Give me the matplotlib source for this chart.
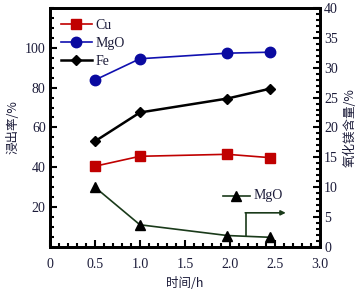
import matplotlib.pyplot as plt
from matplotlib.ticker import MultipleLocator

# data
t = [0.5, 1.0, 1.97, 2.45]
cu = [40.5, 45.5, 46.5, 44.8]
mgo = [83.8, 94.5, 97.3, 97.8]
fe = [53.0, 67.5, 74.5, 79.5]
mgo_content = [10.0, 3.7, 1.9, 1.6]

serif = ['Liberation Serif', 'Noto Sans CJK SC']
cjk = ['Noto Sans CJK SC', 'Liberation Serif']
tc = '#1c1c3a'

plt.rcParams['font.family'] = serif
plt.rcParams['font.size'] = 10

fig = plt.figure(figsize=(3.64, 2.96), dpi=100)
ax = fig.add_axes([0.137, 0.166, 0.742, 0.807])
ax2 = ax.twinx()

ax.plot(t, cu, color='#c00000', marker='s', ms=6.5, lw=1.2, label='Cu')
ax.plot(t, mgo, color='#1010b0', marker='o', ms=7.5, lw=1.2, label='MgO',
        mfc='#0a0aa0', mec='#0a0aa0')
ax.plot(t, fe, color='black', marker='D', ms=5.5, lw=1.8, label='Fe')

ax2.plot(t, mgo_content, color='#1a3a1a', marker='^', ms=7.5, lw=1.2,
         mfc='black', mec='black')

# second legend entry for MgO content
ax2.plot([1.92, 2.22], [8.6, 8.6], color='#1a3a1a', lw=1.2)
ax2.plot([2.07], [8.6], marker='^', ms=7.5, color='black')
ax2.text(2.26, 8.6, 'MgO', va='center', ha='left', color=tc, fontsize=10)

# arrow pointing to right axis
ax2.plot([2.18, 2.18], [1.75, 5.7], color='#1a3a1a', lw=1.2)
ax2.annotate('', xy=(2.62, 5.7), xytext=(2.17, 5.7),
             arrowprops=dict(arrowstyle='-|>', color='#1a3a1a', lw=1.2,
                             mutation_scale=7, shrinkA=0, shrinkB=0))

ax.set_xlim(0, 3.0)
ax.set_ylim(0, 120)
ax2.set_ylim(0, 40)

ax.set_xticks([0, 0.5, 1.0, 1.5, 2.0, 2.5, 3.0])
ax.set_xticklabels(['0', '0.5', '1.0', '1.5', '2.0', '2.5', '3.0'])
ax.xaxis.set_minor_locator(MultipleLocator(0.1))
ax.set_yticks([20, 40, 60, 80, 100])
ax.yaxis.set_minor_locator(MultipleLocator(5))
ax2.set_yticks([0, 5, 10, 15, 20, 25, 30, 35, 40])
ax2.yaxis.set_minor_locator(MultipleLocator(1))

for a in (ax, ax2):
    for s in a.spines.values():
        s.set_linewidth(2)
    a.tick_params(which='major', direction='in', length=5, width=1.5,
                  colors='black', labelcolor=tc, labelsize=10, pad=3)
    a.tick_params(which='minor', direction='in', length=3, width=1.5)
ax.tick_params(axis='x', pad=8)

ax.set_xlabel('时间/h', family=cjk, fontsize=9, color=tc, labelpad=4)
ax.set_ylabel('浸出率/%', family=cjk, fontsize=9, color=tc, labelpad=4)
ax2.set_ylabel('氧化镁含量/%', family=cjk, fontsize=9, color=tc, labelpad=4)

ax.legend(loc='upper left', frameon=False, fontsize=10, handlelength=2.2,
          borderaxespad=0.4, labelspacing=0.35, handletextpad=0.3,
          labelcolor=tc)

fig.savefig('out.png', dpi=100)
